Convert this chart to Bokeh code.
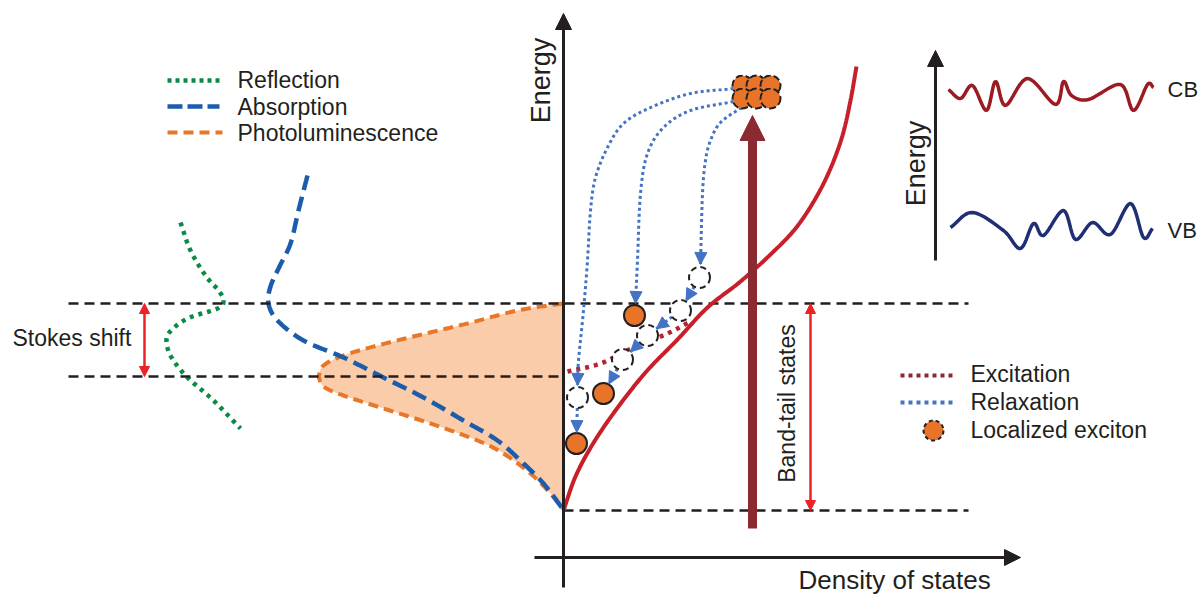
import numpy as np
from bokeh.plotting import figure
from bokeh.models import Range1d, Arrow, NormalHead, ColumnDataSource
from bokeh.core.properties import value
from bokeh.embed import file_html
from bokeh.resources import INLINE

W, H = 1199, 595
FONT = value("Liberation Sans")
INK = "#231f20"

# ---------------- schematic data (screen-like units, y grows downward) -------------
reflection_x = [180, 190, 205, 218, 223, 217, 187, 168, 167, 173, 187, 213, 240]
reflection_y = [222, 250, 275, 290, 300, 308, 318, 333, 347, 360, 377, 400, 428]

absorption_x = [307, 298, 290, 279, 270, 268, 277, 303, 343, 383, 423, 463, 497, 523, 543, 562]
absorption_y = [175, 210, 243, 266, 286, 303, 320, 340, 357, 377, 397, 420, 440, 463, 483, 508]

pl_upper_x = [562, 517, 467, 417, 377, 343, 323, 318]
pl_upper_y = [303, 310, 323, 335, 345, 355, 365, 376]
pl_lower_x = [318, 323, 343, 383, 430, 477, 503, 530, 550, 562]
pl_lower_y = [376, 386, 395, 408, 423, 440, 453, 473, 493, 508]

dos_x = [563, 575, 592, 615, 645, 677, 707, 740, 770, 795, 815, 830, 842, 850, 856]
dos_y = [510, 476, 444, 410, 372, 339, 307, 281, 254, 228, 198, 168, 135, 100, 66]

excitation_x = [567, 600, 633, 667, 690]
excitation_y = [371, 363, 347, 333, 321]

relax_a_x = [733, 690, 650, 623, 607, 595, 590, 587, 583, 578, 577]
relax_a_y = [88, 93, 107, 123, 147, 177, 210, 260, 310, 360, 385]
relax_b_x = [733, 690, 663, 647, 640, 637, 635]
relax_b_y = [101, 110, 127, 153, 193, 260, 303]
relax_c_x = [741, 720, 710, 705, 702, 700]
relax_c_y = [107, 122, 140, 160, 193, 264]

# localized excitons
exciton_x = [576, 634, 603]
exciton_y = [443, 315, 393]
# empty (relaxed-from) sites, in chain order
site_x = [577, 699, 680, 647, 622]
site_y = [397, 277, 310, 335, 359]
# chain hops: from site index -> to (x, y)
hop_from = [0, 1, 2, 3, 4]
hop_to_x = [576, 680, 647, 622, 603]
hop_to_y = [443, 310, 335, 359, 393]

cluster_x = [742, 756, 770, 742, 756, 770]
cluster_y = [85, 85, 85, 98, 98, 98]

cb_x = [948, 960, 972, 986, 995, 1005, 1027, 1055, 1063, 1071, 1088, 1120, 1133, 1147, 1153]
cb_y = [89, 98, 85, 110, 81, 105, 78, 104, 81, 95, 99, 84, 110, 84, 87]
vb_x = [950, 972, 1003, 1020, 1033, 1043, 1063, 1075, 1092, 1110, 1130, 1143, 1152]
vb_y = [227, 212, 230, 248, 223, 235, 210, 239, 222, 234, 203, 237, 228]

level_y = [303, 376, 510]
level_x0 = [68, 68, 563]
level_x1 = [968, 563, 968]

legend_left_labels = ["Reflection", "Absorption", "Photoluminescence"]
legend_left_y = [79, 106, 132]
legend_right_labels = ["Excitation", "Relaxation", "Localized exciton"]
legend_right_y = [373, 401, 429]


def smooth(xs, ys, n=14):
    P = np.column_stack([xs, ys]).astype(float)
    P = np.vstack([2 * P[0] - P[1], P, 2 * P[-1] - P[-2]])
    out = []
    t = np.linspace(0, 1, n, endpoint=False)[:, None]
    for i in range(1, len(P) - 2):
        p0, p1, p2, p3 = P[i - 1], P[i], P[i + 1], P[i + 2]
        seg = 0.5 * ((2 * p1) + (-p0 + p2) * t + (2 * p0 - 5 * p1 + 4 * p2 - p3) * t ** 2
                     + (-p0 + 3 * p1 - 3 * p2 + p3) * t ** 3)
        out.append(seg)
    out.append(P[-2][None, :])
    A = np.vstack(out)
    return list(A[:, 0]), list(A[:, 1])


p = figure(width=W, height=H, x_range=Range1d(0, W), y_range=Range1d(H, 0),
           output_backend="svg", toolbar_location=None, min_border=0,
           x_axis_type=None, y_axis_type=None)
p.grid.visible = False
p.outline_line_color = None
p.background_fill_color = "white"


def arrow(x0, y0, x1, y1, color, lw, size, both=False, show_line=True):
    src = ColumnDataSource(dict(x0=list(x0), y0=list(y0), x1=list(x1), y1=list(y1)))
    head = NormalHead(size=size, fill_color=color, line_color=color, line_width=1)
    kw = dict(end=head, source=src, x_start="x0", y_start="y0", x_end="x1", y_end="y1",
              line_color=color, line_width=lw, line_alpha=1.0 if show_line else 0.0)
    if both:
        kw["start"] = NormalHead(size=size, fill_color=color, line_color=color, line_width=1)
    else:
        kw["start"] = None
    p.add_layout(Arrow(**kw))


# PL filled area
ux, uy = smooth(pl_upper_x, pl_upper_y)
lx, ly = smooth(pl_lower_x, pl_lower_y)
p.patch(ux + lx[1:], uy + ly[1:], fill_color="#fbcca9", line_color=None)
p.line(ux + lx[1:], uy + ly[1:], line_color="#e8772a", line_width=4, line_dash="10 6")

# Reflection & absorption
rx, ry = smooth(reflection_x, reflection_y)
p.line(rx, ry, line_color="#0c8a43", line_width=4.5, line_dash="4 5")
ax_, ay_ = smooth(absorption_x, absorption_y)
p.line(ax_, ay_, line_color="#1b5cab", line_width=4.5, line_dash="15 7")

# horizontal dashed levels
p.segment(x0=level_x0, y0=level_y, x1=level_x1, y1=level_y, line_color=INK,
          line_width=2.3, line_dash="10 6")

# DOS curve
dx_, dy_ = smooth(dos_x, dos_y)
p.line(dx_, dy_, line_color="#c8202a", line_width=4)

# big excitation arrow
arrow([752], [528], [752], [115], "#8b2b31", 9, 25)

# excitation dotted
exx, exy = smooth(excitation_x, excitation_y)
p.line(exx, exy, line_color="#b8232b", line_width=4.5, line_dash="4 5")

# relaxation curves
RELAX = "#4472c4"
heads_x0, heads_y0, heads_x1, heads_y1 = [], [], [], []
for xs, ys in [(relax_a_x, relax_a_y), (relax_b_x, relax_b_y), (relax_c_x, relax_c_y)]:
    sx, sy = smooth(xs, ys)
    p.line(sx, sy, line_color=RELAX, line_width=3, line_dash="3 3")
    heads_x0.append(sx[-3]); heads_y0.append(sy[-3]); heads_x1.append(sx[-1]); heads_y1.append(sy[-1])

R = 10.5
for i, tx, ty in zip(hop_from, hop_to_x, hop_to_y):
    fx, fy = site_x[i], site_y[i]
    vx, vy = tx - fx, ty - fy
    d = np.hypot(vx, vy)
    ux_, uy_ = vx / d, vy / d
    sx0, sy0 = fx + R * ux_, fy + R * uy_
    sx1, sy1 = tx - (R + 0.5) * ux_, ty - (R + 0.5) * uy_
    p.line([sx0, sx1], [sy0, sy1], line_color=RELAX, line_width=3, line_dash="3 3")
    heads_x0.append(sx1 - 3 * ux_); heads_y0.append(sy1 - 3 * uy_)
    heads_x1.append(sx1); heads_y1.append(sy1)
arrow(heads_x0, heads_y0, heads_x1, heads_y1, RELAX, 1, 12, show_line=False)

# sites and excitons
p.scatter(site_x, site_y, marker="circle", size=21, fill_color="white",
          line_color=INK, line_width=2, line_dash="6 4")
p.scatter(exciton_x, exciton_y, marker="circle", size=21, fill_color="#e8742a",
          line_color=INK, line_width=2)
p.scatter(cluster_x, cluster_y, marker="circle", size=20, fill_color="#e8742a",
          line_color=INK, line_width=2, line_dash="7 3")

# main axes
arrow([563], [587], [563], [13], INK, 3, 16)
arrow([534], [557], [1020], [557], INK, 3, 16)

# red double arrows
arrow([144], [303], [144], [376], "#ec2227", 2.5, 10, both=True)
arrow([810], [303], [810], [510], "#ec2227", 2.5, 10, both=True)

# inset
arrow([935], [260], [935], [50], INK, 3, 16)
cx, cy = smooth(cb_x, cb_y, n=10)
p.line(cx, cy, line_color="#9b1b22", line_width=3.5)
vx, vy = smooth(vb_x, vb_y, n=10)
p.line(vx, vy, line_color="#1f2f72", line_width=3.5)

# legends
p.line([167, 219], [80, 80], line_color="#0c8a43", line_width=4.5, line_dash="4 4")
p.line([167, 219], [106, 106], line_color="#1b5cab", line_width=4.5, line_dash="15 5")
p.line([167, 222], [132, 132], line_color="#e8772a", line_width=4, line_dash="10 6")
p.text([237] * 3, legend_left_y, text=legend_left_labels, text_font=FONT,
       text_font_size="23px", text_color=INK, text_baseline="middle")

p.line([900, 953], [375, 375], line_color="#8b2b31", line_width=4, line_dash="4 4")
p.line([900, 953], [402, 402], line_color=RELAX, line_width=4, line_dash="4 4")
p.scatter([933], [430], marker="circle", size=20, fill_color="#e8742a",
          line_color=INK, line_width=2, line_dash="4 3")
p.text([970] * 3, legend_right_y, text=legend_right_labels, text_font=FONT,
       text_font_size="23px", text_color=INK, text_baseline="middle")

# labels
p.text([12], [337], text=["Stokes shift"], text_font=FONT, text_font_size="23px",
       text_color=INK, text_baseline="middle")
p.text([786], [403], text=["Band-tail states"], text_font=FONT, text_font_size="23px",
       text_color=INK, text_baseline="middle", text_align="center", angle=np.pi / 2)
p.text([540, 915], [80, 163], text=["Energy", "Energy"], text_font=FONT,
       text_font_size="27px", text_color=INK, text_baseline="middle",
       text_align="center", angle=np.pi / 2)
p.text([798], [579], text=["Density of states"], text_font=FONT, text_font_size="26px",
       text_color=INK, text_baseline="middle")
p.text([1167, 1167], [89, 230], text=["CB", "VB"], text_font=FONT, text_font_size="22px",
       text_color=INK, text_baseline="middle")

open("out.html", "w").write(file_html(p, INLINE))
